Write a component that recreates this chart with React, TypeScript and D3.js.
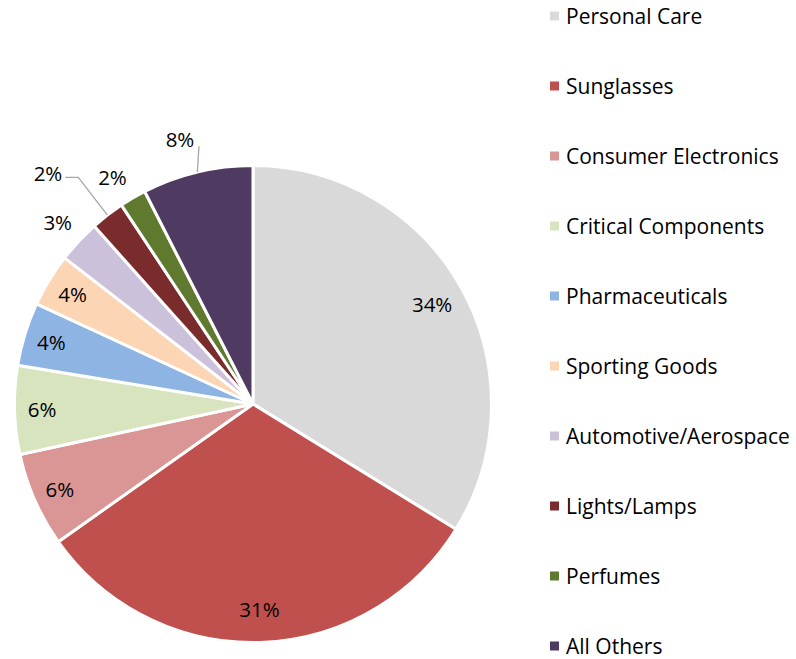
import React, { useEffect, useRef } from "react";
import * as d3 from "d3";

const categories = [
  "Personal Care",
  "Sunglasses",
  "Consumer Electronics",
  "Critical Components",
  "Pharmaceuticals",
  "Sporting Goods",
  "Automotive/Aerospace",
  "Lights/Lamps",
  "Perfumes",
  "All Others",
];
const shares = [33.8, 31.4, 6.4, 6.0, 4.3, 3.6, 2.9, 2.3, 1.8, 7.5];
const colors = [
  "#d9d9d9",
  "#c0504d",
  "#d99694",
  "#d7e4bd",
  "#8eb4e3",
  "#fcd5b5",
  "#ccc1da",
  "#7a2b2b",
  "#5f7a2f",
  "#4f3b62",
];

const W = 796;
const H = 659;
const FONT = "'Open Sans', 'Liberation Sans', sans-serif";

export default function App() {
  const ref = useRef<SVGSVGElement>(null);

  useEffect(() => {
    const svg = d3.select(ref.current);
    svg.selectAll("*").remove();

    const data = categories.map((c, i) => ({ label: c, value: shares[i], color: colors[i] }));
    const cx = 253;
    const cy = 404;
    const r = 238.5;

    const pie = d3.pie<any>().value((d) => d.value).sort(null);
    const arcs = pie(data);
    const arc = d3.arc<any>().innerRadius(0).outerRadius(r);

    const g = svg.append("g").attr("transform", `translate(${cx},${cy})`);

    g.selectAll("path.slice")
      .data(arcs)
      .enter()
      .append("path")
      .attr("class", "slice")
      .attr("d", arc)
      .attr("fill", (d) => d.data.color)
      .attr("stroke", "#fff")
      .attr("stroke-width", 3)
      .attr("stroke-linejoin", "round");

    const at = (a: number, rad: number): [number, number] => [Math.sin(a) * rad, -Math.cos(a) * rad];
    const mid = (d: any) => (d.startAngle + d.endAngle) / 2;

    const labels = g.append("g").style("font-family", FONT).style("font-size", "20.5px").attr("fill", "#000");
    const pct = (v: number) => `${Math.round(v)}%`;

    arcs.forEach((d) => {
      const m = mid(d);
      const name = d.data.label;
      if (name === "Lights/Lamps") {
        // pushed out to the left with a bent leader line
        const e = at(m, r);
        const p = at(m, r * 1.2);
        g.append("polyline")
          .attr("points", [e, p, [p[0] - 13, p[1]]].map((q) => q.join(",")).join(" "))
          .attr("fill", "none")
          .attr("stroke", "#a6a6a6")
          .attr("stroke-width", 1.3);
        labels.append("text")
          .attr("x", p[0] - 16)
          .attr("y", p[1] - 4)
          .attr("text-anchor", "end")
          .attr("dominant-baseline", "central")
          .text(pct(d.data.value));
      } else if (name === "All Others") {
        const e = at(m, r);
        const l = at(m, r * 1.15);
        g.append("line")
          .attr("x1", e[0])
          .attr("y1", e[1])
          .attr("x2", l[0] + 10)
          .attr("y2", l[1] + 9)
          .attr("stroke", "#a6a6a6")
          .attr("stroke-width", 1.3);
        labels.append("text")
          .attr("x", l[0] - 9)
          .attr("y", l[1] + 2)
          .attr("text-anchor", "middle")
          .attr("dominant-baseline", "central")
          .text(pct(d.data.value));
      } else {
        const outside = d.data.value < 3.5;
        const p = at(m, outside ? r * 1.12 : d.data.value > 20 ? r * 0.86 : r * 0.885);
        labels.append("text")
          .attr("x", p[0] + (name === "Perfumes" ? -6 : 0))
          .attr("y", p[1] + (name === "Perfumes" ? 4 : 0))
          .attr("text-anchor", "middle")
          .attr("dominant-baseline", "central")
          .text(pct(d.data.value));
      }
    });

    // legend
    const ly = d3.scalePoint<string>().domain(categories).range([16, 646]);
    const legend = svg.append("g").style("font-family", FONT).style("font-size", "21px");
    const rows = legend
      .selectAll("g")
      .data(data)
      .enter()
      .append("g")
      .attr("transform", (d) => `translate(0,${ly(d.label)})`);
    rows.append("rect").attr("x", 550).attr("y", -4.5).attr("width", 9).attr("height", 9).attr("fill", (d) => d.color);
    rows.append("text")
      .attr("x", 566)
      .attr("y", 0)
      .attr("dominant-baseline", "central")
      .attr("fill", "#000")
      .text((d) => d.label);
  }, []);

  return (
    <svg
      ref={ref}
      width={W}
      height={H}
      style={{ position: "absolute", left: 0, top: 0, background: "#fff" }}
    />
  );
}
